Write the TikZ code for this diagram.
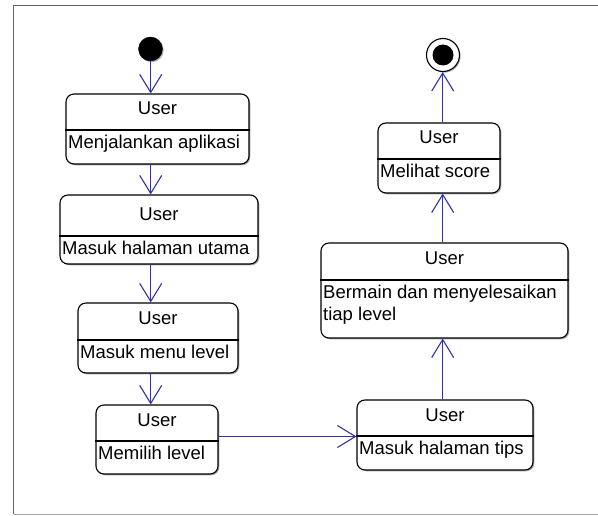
\documentclass[tikz,border=0pt]{standalone}
\usepackage{fontspec}
\setmainfont{Liberation Sans}
\usetikzlibrary{arrows.meta,shadows,fit,calc}

\definecolor{flowblue}{RGB}{50,50,165}
\definecolor{framegray}{RGB}{100,100,100}
\definecolor{framelight}{RGB}{165,165,165}

\tikzset{
  x=1pt, y=-1pt,
  statebox/.style={draw=black, line width=1.1pt, rounded corners=8pt, fill=white,
    inner sep=0pt,
    drop shadow={shadow xshift=1.3pt, shadow yshift=-1.3pt, fill=black, opacity=0.35}},
  divider/.style={draw=black, line width=1.1pt},
  headtext/.style={font=\fontsize{18.5}{21.5}\selectfont, inner sep=0pt, anchor=base},
  bodytext/.style={font=\fontsize{18.5}{21.5}\selectfont, inner sep=0pt, anchor=north west, align=left},
  flow/.style={draw=flowblue, line width=1.1pt, -{Straight Barb[length=18pt, width=22pt, line width=1.1pt]}},
  startdot/.style={circle, fill=black, draw=black, minimum size=24pt, inner sep=0pt,
    drop shadow={shadow xshift=1.2pt, shadow yshift=-1.2pt, fill=black, opacity=0.3}},
  endring/.style={circle, fill=white, draw=black, line width=1.1pt, minimum size=33pt, inner sep=0pt,
    drop shadow={shadow xshift=1.2pt, shadow yshift=-1.2pt, fill=black, opacity=0.3}},
  enddot/.style={circle, fill=black, minimum size=21pt, inner sep=0pt},
}

% state box: name, left, top, right, bottom, divider y, activity text
\newcommand{\umlstate}[7]{%
  \coordinate (#1nw) at (#2,#3);
  \coordinate (#1se) at (#4,#5);
  \node[statebox, fit=(#1nw)(#1se)] (#1) {};
  \coordinate (#1d) at (#2,#6);
  \draw[divider] (#1d -| #1.west) -- (#1d -| #1.east);
  \node[headtext] (#1h) at ($(#1.north |- #1d) + (0,-15)$) {User};
  \node[bodytext] (#1b) at ($(#1d) + (2,5.3)$) {#7};
}

\begin{document}
\begin{tikzpicture}
  \useasboundingbox (0,0) rectangle (598,516);

  % outer frame
  \draw[framegray, line width=1.4pt] (598,5.5) -- (13.5,5.5) -- (13.5,514);
  \draw[framelight, line width=1pt] (13.5,514) -- (598,514);

  % left column
  \node[startdot] (start) at (150.5,49) {};
  \umlstate{run}{66}{94}{249}{164}{130}{Menjalankan aplikasi}
  \umlstate{home}{60}{195}{258}{264}{236}{Masuk halaman utama}
  \umlstate{menu}{78}{303}{238}{373}{340}{Masuk menu level}
  \umlstate{pick}{96}{405}{218}{474}{441}{Memilih level}

  % right column
  \umlstate{tips}{357}{400}{533}{470}{436}{Masuk halaman tips}
  \umlstate{play}{321}{243}{568}{338}{280}{Bermain dan menyelesaikan\\tiap level}
  \umlstate{score}{378}{123}{500}{193}{159}{Melihat score}
  \node[endring] (finish) at (443,55) {};
  \node[enddot] (finishdot) at (finish.center) {};

  % transitions
  \coordinate (lx) at (150.7,0);
  \coordinate (rx) at (442.7,0);
  \coordinate (hy) at (0,436.5);
  \draw[flow] (start.south -| lx) -- (run.north -| lx);
  \draw[flow] (run.south -| lx) -- (home.north -| lx);
  \draw[flow] (home.south -| lx) -- (menu.north -| lx);
  \draw[flow] (menu.south -| lx) -- (pick.north -| lx);
  \draw[flow] (pick.east |- hy) -- (tips.west |- hy);
  \draw[flow] (tips.north -| rx) -- (play.south -| rx);
  \draw[flow] (play.north -| rx) -- (score.south -| rx);
  \draw[flow] (score.north -| rx) -- (finish.south -| rx);
\end{tikzpicture}
\end{document}
